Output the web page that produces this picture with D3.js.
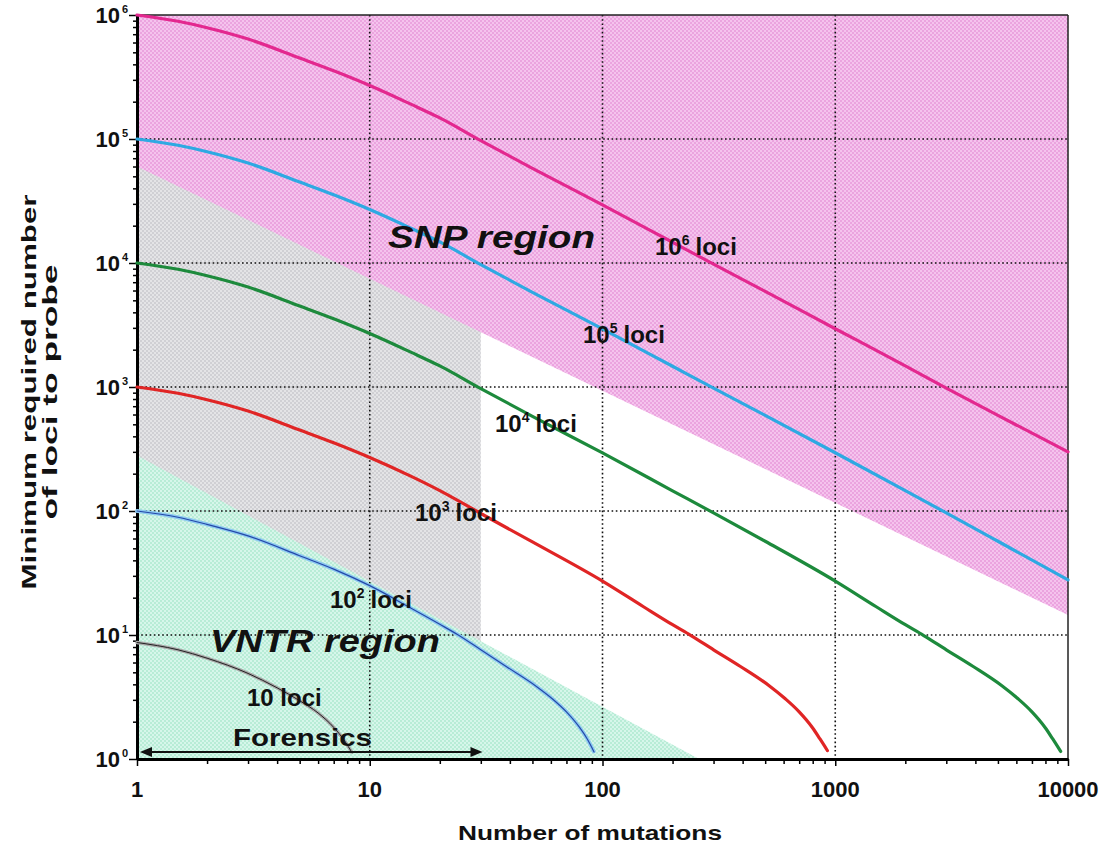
<!DOCTYPE html>
<html>
<head>
<meta charset="utf-8">
<script src="https://cdn.jsdelivr.net/npm/d3@7"></script>
<style>
  body { margin: 0; background: #fff; }
  svg { display: block; }
  text { font-family: "Liberation Sans", Arial, Helvetica, sans-serif; font-weight: bold; fill: #111; }
</style>
</head>
<body>
<svg id="chart" width="1110" height="851"></svg>
<script>
// ---- axis ticks ----
const xTickValues = [1, 10, 100, 1000, 10000];
const xTickLabels = ["1", "10", "100", "1000", "10000"];
const yTickExponents = [0, 1, 2, 3, 4, 5, 6];

// ---- curves: minimum required number of loci vs. number of mutations ----
const loci6X = [1, 1.5, 2, 3, 5, 7, 10, 15, 20, 30, 50, 100, 200, 300, 500, 1000, 2000, 3000, 5000, 10000];
const loci6Y = [1e6, 8.9e5, 7.9e5, 6.4e5, 4.5e5, 3.55e5, 2.7e5, 1.91e5, 1.48e5, 9.7e4, 5.8e4, 2.94e4, 1.47e4, 9.8e3, 5.9e3, 2.95e3, 1.48e3, 980, 590, 300];

const loci5X = [1, 1.5, 2, 3, 5, 7, 10, 15, 20, 30, 50, 100, 200, 300, 500, 1000, 2000, 3000, 5000, 10000];
const loci5Y = [1e5, 8.9e4, 7.9e4, 6.4e4, 4.5e4, 3.55e4, 2.7e4, 1.91e4, 1.48e4, 9.7e3, 5.8e3, 2.94e3, 1.47e3, 980, 590, 295, 146, 96.5, 57, 27.8];

const loci4X = [1, 1.5, 2, 3, 5, 7, 10, 15, 20, 30, 50, 100, 200, 300, 500, 1000, 1500, 2000, 2400, 3000, 3900, 5200, 6100, 7000, 8000, 8600, 9300];
const loci4Y = [1e4, 8.9e3, 7.9e3, 6.4e3, 4.5e3, 3.55e3, 2.7e3, 1.91e3, 1.48e3, 970, 580, 294, 145.5, 96.5, 57, 27.2, 16.9, 12.1, 9.9, 7.6, 5.6, 3.9, 3.06, 2.4, 1.78, 1.45, 1.15];

const loci3X = [1, 1.5, 2, 3, 5, 7, 10, 15, 20, 30, 50, 100, 150, 200, 240, 300, 390, 520, 610, 700, 800, 860, 925];
const loci3Y = [1000, 890, 790, 640, 450, 355, 270, 191, 146, 95.5, 56.3, 27.2, 16.9, 12.1, 9.9, 7.6, 5.6, 3.9, 3.06, 2.4, 1.78, 1.45, 1.17];

const loci2X = [1, 1.5, 2, 3, 5, 7, 10, 15, 20, 24, 30, 39, 52, 61, 70, 80, 86, 92];
const loci2Y = [100, 89, 78, 63, 43.6, 34, 25, 16.5, 12.2, 10, 7.6, 5.5, 3.85, 3.05, 2.4, 1.78, 1.45, 1.14];

const loci1X = [1, 1.5, 2, 3, 4, 5, 6, 7, 7.8, 8.4];
const loci1Y = [8.7, 7.6, 6.5, 4.9, 3.75, 2.95, 2.35, 1.8, 1.4, 1.12];

// ---- shaded regions ----
const snpEdgeX = [1, 10000];
const snpEdgeY = [6e4, 14.5];
const vntrEdgeX = [1, 260];
const vntrEdgeY = [280, 1];
const grayMaxMutations = 30;
const forensicsSpan = [1.03, 30.5];

// ---- layout ----
const svg = d3.select("#chart");
const x = d3.scaleLog().domain([1, 10000]).range([137, 1068]);
const y = d3.scaleLog().domain([1, 1e6]).range([759, 15]);
const [x0, x1] = x.range();
const [y0, y1] = y.range();

// hatched fills
const defs = svg.append("defs");
function checker(id, base, dot) {
  const p = defs.append("pattern").attr("id", id).attr("width", 4).attr("height", 4)
    .attr("patternUnits", "userSpaceOnUse");
  p.append("rect").attr("width", 4).attr("height", 4).attr("fill", base);
  p.append("rect").attr("width", 2).attr("height", 2).attr("fill", dot);
  p.append("rect").attr("x", 2).attr("y", 2).attr("width", 2).attr("height", 2).attr("fill", dot);
}
checker("pinkFill", "#f5c3ed", "#eba4df");
checker("grayFill", "#e4e4e6", "#d0d0d4");
checker("greenFill", "#d6f6ea", "#b8ecd6");

defs.append("clipPath").attr("id", "plotClip")
  .append("rect").attr("x", x0).attr("y", y1).attr("width", x1 - x0).attr("height", y0 - y1);

const regions = svg.append("g").attr("clip-path", "url(#plotClip)");

// intermediate (gray) band: all mutations up to the cut-off
regions.append("rect")
  .attr("x", x0).attr("y", y1)
  .attr("width", x(grayMaxMutations) - x0).attr("height", y0 - y1)
  .attr("fill", "url(#grayFill)");

// SNP region: everything above its lower edge
regions.append("path")
  .attr("d", `M${x(snpEdgeX[0])},${y1} L${x(snpEdgeX[0])},${y(snpEdgeY[0])} L${x(snpEdgeX[1])},${y(snpEdgeY[1])} L${x(snpEdgeX[1])},${y1} Z`)
  .attr("fill", "url(#pinkFill)");

// VNTR region: everything below its upper edge
regions.append("path")
  .attr("d", `M${x(vntrEdgeX[0])},${y0} L${x(vntrEdgeX[0])},${y(vntrEdgeY[0])} L${x(vntrEdgeX[1])},${y(vntrEdgeY[1])} Z`)
  .attr("fill", "url(#greenFill)");

// dotted grid
const grid = svg.append("g").attr("stroke", "#111").attr("stroke-width", 1.6)
  .attr("stroke-dasharray", "1.6,2.6");
[10, 100, 1000].forEach(v => {
  grid.append("line").attr("x1", x(v)).attr("x2", x(v)).attr("y1", y1).attr("y2", y0);
});
[10, 100, 1000, 1e4, 1e5].forEach(v => {
  grid.append("line").attr("x1", x0).attr("x2", x1).attr("y1", y(v)).attr("y2", y(v));
});

// frame
svg.append("line").attr("x1", x0).attr("x2", x1).attr("y1", y1).attr("y2", y1)
  .attr("stroke", "#222").attr("stroke-width", 1.5);
svg.append("line").attr("x1", x1).attr("x2", x1).attr("y1", y1).attr("y2", y0)
  .attr("stroke", "#222").attr("stroke-width", 1.5);

// axes with minor ticks
const minorVals = (lo, hi) => {
  const out = [];
  for (let d = lo; d < hi; d *= 10) for (let k = 1; k < 10; k++) out.push(d * k);
  out.push(hi);
  return out;
};
const isMajor = v => Math.abs(Math.log10(v) - Math.round(Math.log10(v))) < 1e-9;

const yAxis = svg.append("g").attr("transform", `translate(${x0},0)`)
  .call(d3.axisLeft(y).tickValues(minorVals(1, 1e6)).tickFormat("").tickSizeOuter(0));
yAxis.selectAll(".tick line").attr("x2", d => isMajor(d) ? -8 : -4).attr("stroke-width", 1.5);
yAxis.select(".domain").attr("stroke-width", 3);

const xAxis = svg.append("g").attr("transform", `translate(0,${y0})`)
  .call(d3.axisBottom(x).tickValues(minorVals(1, 10000)).tickFormat("").tickSizeOuter(0));
xAxis.selectAll(".tick line").attr("y2", d => isMajor(d) ? 7 : 5).attr("stroke-width", 1.5);
xAxis.select(".domain").attr("stroke-width", 3);

// tick labels
xTickValues.forEach((v, i) => {
  svg.append("text").attr("x", x(v)).attr("y", 797).attr("text-anchor", "middle")
    .attr("font-size", 22).text(xTickLabels[i]);
});
yTickExponents.forEach(e => {
  svg.append("text").attr("x", 120).attr("y", y(Math.pow(10, e)) + 8)
    .attr("text-anchor", "end").attr("font-size", 22).text("10");
  svg.append("text").attr("x", 122).attr("y", y(Math.pow(10, e)) - 2)
    .attr("font-size", 11).text(e);
});

// curves
const line = d3.line().x(d => x(d[0])).y(d => y(d[1])).curve(d3.curveMonotoneX);
const pairs = (xs, ys) => xs.map((v, i) => [v, ys[i]]);
const curves = svg.append("g").attr("fill", "none").attr("stroke-linejoin", "round").attr("stroke-linecap", "round");

curves.append("path").attr("d", line(pairs(loci6X, loci6Y))).attr("stroke", "#e3288f").attr("stroke-width", 3.2);
curves.append("path").attr("d", line(pairs(loci5X, loci5Y))).attr("stroke", "#2ea9e2").attr("stroke-width", 3.2);
curves.append("path").attr("d", line(pairs(loci4X, loci4Y))).attr("stroke", "#1d8a3c").attr("stroke-width", 3.2);
curves.append("path").attr("d", line(pairs(loci3X, loci3Y))).attr("stroke", "#e02525").attr("stroke-width", 3.2);

curves.append("path").attr("d", line(pairs(loci2X, loci2Y))).attr("stroke", "#8cc9f0")
  .attr("stroke-width", 4).attr("stroke-dasharray", "3,2");
curves.append("path").attr("d", line(pairs(loci2X, loci2Y))).attr("stroke", "#2448a8").attr("stroke-width", 1.2);

curves.append("path").attr("d", line(pairs(loci1X, loci1Y))).attr("stroke", "#a8a8a8")
  .attr("stroke-width", 3.5).attr("stroke-dasharray", "3,2");
curves.append("path").attr("d", line(pairs(loci1X, loci1Y))).attr("stroke", "#222").attr("stroke-width", 1);

// curve labels
const curveLabels = [
  { exp: "6", px: 655, py: 255 },
  { exp: "5", px: 583, py: 343 },
  { exp: "4", px: 495, py: 432 },
  { exp: "3", px: 415, py: 521 },
  { exp: "2", px: 330, py: 608 }
];
curveLabels.forEach(l => {
  const t = svg.append("text").attr("x", l.px).attr("y", l.py).attr("font-size", 24);
  t.append("tspan").text("10");
  t.append("tspan").attr("dy", -10).attr("font-size", 14).text(l.exp);
  t.append("tspan").attr("dy", 10).attr("dx", 6).text("loci");
});
svg.append("text").attr("x", 247).attr("y", 706).attr("font-size", 24).text("10 loci");
svg.append("text").attr("x", 233).attr("y", 746).attr("font-size", 24)
  .attr("textLength", 139).attr("lengthAdjust", "spacingAndGlyphs").text("Forensics");

// region names
svg.append("text").attr("x", 388).attr("y", 248).attr("font-size", 32).attr("font-style", "italic")
  .attr("textLength", 207).attr("lengthAdjust", "spacingAndGlyphs").text("SNP region");
svg.append("text").attr("x", 210).attr("y", 652).attr("font-size", 32).attr("font-style", "italic")
  .attr("textLength", 230).attr("lengthAdjust", "spacingAndGlyphs").text("VNTR region");

// forensics range arrow
const ay = 752;
const ax0 = x(forensicsSpan[0]), ax1 = x(forensicsSpan[1]);
svg.append("line").attr("x1", ax0 + 6).attr("x2", ax1 - 6).attr("y1", ay).attr("y2", ay)
  .attr("stroke", "#111").attr("stroke-width", 2.2);
svg.append("path").attr("d", `M${ax0},${ay} l12,-5 l0,10 Z`).attr("fill", "#111");
svg.append("path").attr("d", `M${ax1},${ay} l-12,-5 l0,10 Z`).attr("fill", "#111");

// axis titles
svg.append("text").attr("x", 590).attr("y", 840).attr("text-anchor", "middle").attr("font-size", 21)
  .attr("textLength", 264).attr("lengthAdjust", "spacingAndGlyphs").text("Number of mutations");
svg.append("text").attr("transform", "translate(36,392) rotate(-90)").attr("text-anchor", "middle")
  .attr("font-size", 21).attr("textLength", 395).attr("lengthAdjust", "spacingAndGlyphs")
  .text("Minimum required number");
svg.append("text").attr("transform", "translate(57,392) rotate(-90)").attr("text-anchor", "middle")
  .attr("font-size", 21).attr("textLength", 255).attr("lengthAdjust", "spacingAndGlyphs")
  .text("of loci to probe");
</script>
</body>
</html>
